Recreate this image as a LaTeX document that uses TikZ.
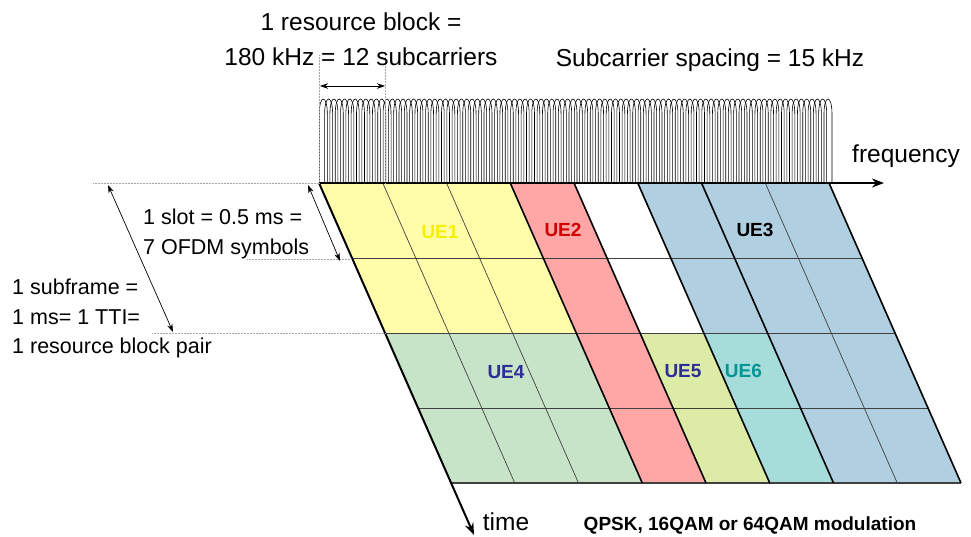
\documentclass[tikz,border=0pt]{standalone}
\usepackage{fontspec}
\setmainfont{Liberation Sans}
\usepackage{xcolor}
\usepackage{tikz}
\usetikzlibrary{arrows.meta}
\usetikzlibrary{positioning}
\definecolor{ueyellow}{RGB}{255,253,170}
\definecolor{uered}{RGB}{255,166,166}
\definecolor{ueblue}{RGB}{176,208,226}
\definecolor{uegreen}{RGB}{200,228,200}
\definecolor{uelime}{RGB}{220,235,166}
\definecolor{ueteal}{RGB}{166,220,218}
\definecolor{navytext}{RGB}{45,45,150}
\definecolor{tealtext}{RGB}{0,150,150}
\definecolor{redtext}{RGB}{210,0,0}
\definecolor{yellowtext}{RGB}{245,240,0}
\tikzstyle{caption} = [inner sep=0pt, font=\fontsize{24.5}{35}\selectfont]
\tikzstyle{sidenote} = [inner sep=0pt, align=left, font=\fontsize{21.5}{29.5}\selectfont]
\tikzstyle{uelabel} = [inner sep=0pt, font=\fontsize{19}{21}\selectfont\bfseries]
\tikzstyle{axis} = [line width=2pt,->,>={Stealth[length=12pt,width=9pt]}]
\tikzstyle{span} = [line width=0.7pt,<->,>={Stealth[length=8pt,width=5.5pt]}]
\tikzstyle{guide} = [densely dotted, gray!70, line width=0.5pt]
\tikzstyle{thinsep} = [black!75, line width=0.7pt]
\tikzstyle{ueborder} = [black, line width=1.6pt]
\tikzstyle{rowsep} = [black!75, line width=0.8pt]
\tikzstyle{subcarrier} = [black, line width=0.6pt]

\begin{document}
\begin{tikzpicture}[x=1pt, y=-1pt]
    \useasboundingbox (0,0) rectangle (971,536);

    % resource grid, 8 blocks by 4 half slots
    \begin{scope}[shift={(319,183)}, x={(63.75pt,0pt)}, y={(33pt,-75pt)}]
        \fill[ueyellow] (0,0) -- (3,0) -- (3,2) -- (0,2) -- cycle;
        \fill[uegreen] (0,2) -- (3,2) -- (3,4) -- (0,4) -- cycle;
        \fill[uered] (3,0) -- (4,0) -- (4,4) -- (3,4) -- cycle;
        \fill[uelime] (4,2) -- (5,2) -- (5,4) -- (4,4) -- cycle;
        \fill[ueteal] (5,2) -- (6,2) -- (6,4) -- (5,4) -- cycle;
        \fill[ueblue] (5,0) -- (8,0) -- (8,4) -- (6,4) -- (6,2) -- (5,2) -- cycle;
        \foreach \r in {1,2,3}
            \draw[rowsep] (0,\r) -- (8,\r);
        \draw[rowsep, line width=1.2pt] (0,4) -- (8,4);
        \foreach \c in {1,2,7}
            \draw[thinsep] (\c,0) -- (\c,4);
        \foreach \c in {3,4,5,6,8}
            \draw[ueborder] (\c,0) -- (\c,4);
    \end{scope}

    % subcarriers
    \foreach \k in {0,...,95}{
        \pgfmathsetmacro{\lft}{319.3+5.3125*\k}
        \pgfmathsetmacro{\rgt}{\lft+8}
        \draw[subcarrier] (\lft,183) -- (\lft,114) .. controls (\lft,94) and (\rgt,94) .. (\rgt,114) -- (\rgt,183);
    }

    % axes
    \coordinate (origin) at (319,183);
    \coordinate (freqend) at (884,183);
    \coordinate (timeend) at (474,535);
    \draw[axis] (origin) -- (freqend);
    \draw[axis] (origin) -- (timeend);

    % dotted guides
    \draw[guide] (319,55) -- (origin);
    \draw[guide] (385,55) -- (385,183);
    \draw[guide] (93,183) -- (origin);
    \draw[guide] (247,259) -- (352,259);
    \draw[guide] (152,333) -- (385,333);

    % spans
    \coordinate (rbleft) at (320,86);
    \coordinate (rbright) at (385,86);
    \coordinate (slottop) at (308,185);
    \coordinate (slotbot) at (340,261);
    \coordinate (frametop) at (108,185);
    \coordinate (framebot) at (173,332);
    \draw[span] (rbleft) -- (rbright);
    \draw[span] (slottop) -- (slotbot);
    \draw[span] (frametop) -- (framebot);

    % texts
    \node(rbtext)[caption, align=center] at (361,39.5) {1 resource block =\\180 kHz = 12 subcarriers};
    \node(spacingtext)[caption, anchor=base] at (710,66) {Subcarrier spacing = 15 kHz};
    \node(freqtext)[caption, anchor=base] at (906,162) {frequency};
    \node(timetext)[caption, anchor=base] at (506,530) {time};
    \node(modtext)[inner sep=0pt, font=\fontsize{19}{22}\selectfont\bfseries, anchor=base] at (750,530) {QPSK, 16QAM or 64QAM modulation};
    \node(slottext)[sidenote, anchor=north west] at (143,209) {1 slot = 0.5 ms =\\7 OFDM symbols};
    \node(frametext)[sidenote, anchor=north west] at (12,279) {1 subframe =\\1 ms= 1 TTI=\\1 resource block pair};

    % users
    \node(ue1)[uelabel, text=yellowtext] at (440,232) {UE1};
    \node(ue2)[uelabel, text=redtext] at (563,230) {UE2};
    \node(ue3)[uelabel, text=black] at (755,230) {UE3};
    \node(ue4)[uelabel, text=navytext] at (506,372) {UE4};
    \node(ue5)[uelabel, text=navytext] at (683,371) {UE5};
    \node(ue6)[uelabel, text=tealtext, right=23pt of ue5] {UE6};
\end{tikzpicture}
\end{document}
